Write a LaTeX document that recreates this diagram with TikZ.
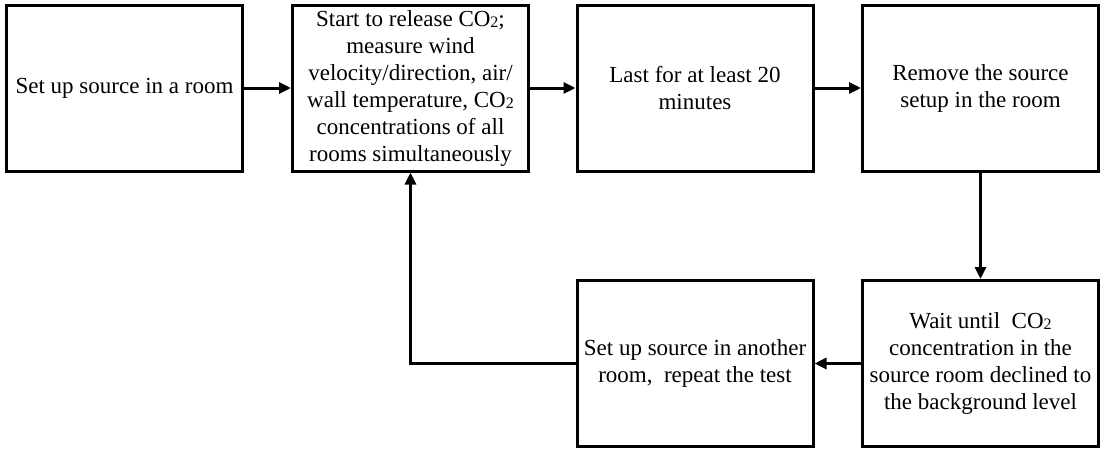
\documentclass[tikz,border=0pt]{standalone}
\usepackage{fontspec}
\setmainfont{Liberation Serif}
\usetikzlibrary{arrows.meta}

\newcommand{\cotwo}{CO\raisebox{-1pt}{\fontsize{16}{16}\selectfont 2}}

\begin{document}
\begin{tikzpicture}[x=1pt, y=-1pt,
  stepbox/.style={draw, line width=3pt, minimum width=236pt, minimum height=166pt,
    align=center, inner sep=4pt, font=\fontsize{23}{27}\selectfont},
  flow/.style={line width=3pt, -{Triangle[length=12pt, width=11pt]}}]

% Frame
\useasboundingbox (0,0) rectangle (1105,450);

% Top row
\node[stepbox] (setup) at (124.5,88) {Set up source in a room};
\node[stepbox] (release) at (410.5,88) {Start to release \cotwo;\\ measure wind\\ velocity/direction, air/\\ wall temperature, \cotwo\\ concentrations of all\\ rooms simultaneously};
\node[stepbox] (last) at (695,88) {Last for at least 20\\ minutes};
\node[stepbox] (remove) at (980.5,88) {Remove the source\\ setup in the room};

% Bottom row
\node[stepbox] (wait) at (980.5,363.5) {Wait until\ \ \cotwo\\ concentration in the\\ source room declined to\\ the background level};
\node[stepbox] (another) at (695,363.5) {Set up source in another\\ room,\ \ repeat the test};

% Arrows
\draw[flow] (setup) -- (release);
\draw[flow] (release) -- (last);
\draw[flow] (last) -- (remove);
\draw[flow] (remove) -- (wait);
\draw[flow] (wait) -- (another);
\draw[flow] (another.west) -| (release.south);

\end{tikzpicture}
\end{document}
